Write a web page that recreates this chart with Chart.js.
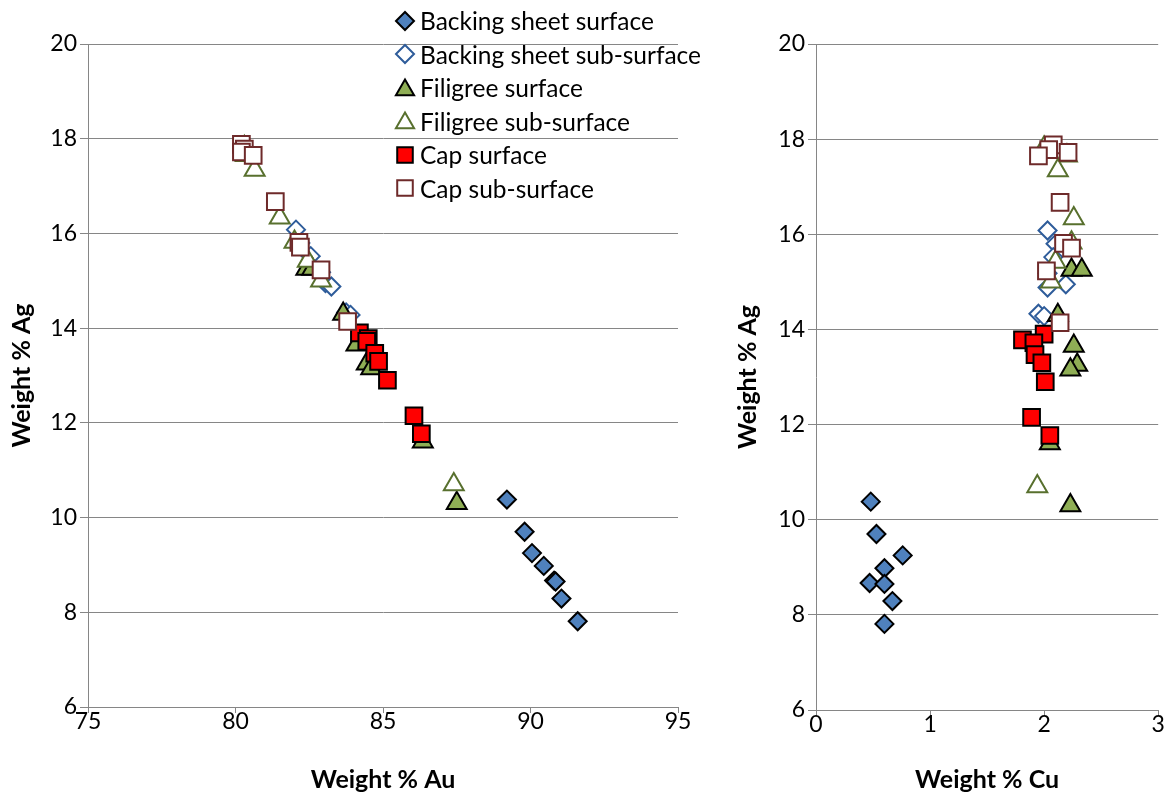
<!DOCTYPE html>
<html lang="en">
<head>
<meta charset="UTF-8">
<title>Weight % Ag against Au and Cu</title>
<script src="https://cdn.jsdelivr.net/npm/chart.js@4.4.1/dist/chart.umd.min.js"></script>
<style>
  body { margin: 0; background: #fff; }
  #wrap { position: relative; width: 1172px; height: 798px; overflow: hidden; }
  #leftChart { position: absolute; left: 0; top: 0; }
  #rightChart { position: absolute; left: 720px; top: 0; }
  #legend { position: absolute; left: 393px; top: 4px; font-family: Lato, sans-serif; font-size: 24.5px; color: #000; }
  #legend .row { height: 33.5px; display: flex; align-items: center; white-space: nowrap; }
  #legend canvas { margin-right: 3px; }
</style>
</head>
<body>
<div id="wrap">
  <canvas id="leftChart" width="700" height="798"></canvas>
  <canvas id="rightChart" width="452" height="798"></canvas>
  <div id="legend"></div>
</div>

<script>
// values: each sample has Au, Cu and Ag weight %
var backSurfAu = [89.2, 89.8, 90.05, 90.45, 90.8, 90.85, 91.05, 91.6];
var backSurfCu = [0.48, 0.53, 0.76, 0.60, 0.47, 0.60, 0.67, 0.60];
var backSurfAg = [10.38, 9.70, 9.25, 8.98, 8.67, 8.65, 8.29, 7.81];

var backSubAu = [82.05, 82.2, 82.55, 82.9, 83.05, 83.25, 83.75, 83.9];
var backSubCu = [2.03, 2.10, 2.08, 2.03, 2.19, 2.03, 1.95, 2.00];
var backSubAg = [16.08, 15.80, 15.52, 15.18, 14.95, 14.88, 14.33, 14.28];

var filSurfAu = [82.4, 82.6, 83.65, 84.1, 84.45, 84.6, 86.35, 87.5];
var filSurfCu = [2.24, 2.33, 2.12, 2.26, 2.29, 2.23, 2.05, 2.23];
var filSurfAg = [15.25, 15.25, 14.30, 13.65, 13.25, 13.15, 11.60, 10.30];

var filSubAu = [80.3, 80.35, 80.65, 81.5, 82.0, 82.45, 82.9, 87.4];
var filSubCu = [2.00, 2.20, 2.12, 2.26, 2.24, 2.10, 2.06, 1.94];
var filSubAg = [17.82, 17.65, 17.34, 16.33, 15.82, 15.42, 15.00, 10.70];

var capSurfAu = [84.2, 84.5, 84.45, 84.72, 84.85, 85.15, 86.05, 86.3];
var capSurfCu = [2.00, 1.81, 1.91, 1.92, 1.98, 2.01, 1.89, 2.05];
var capSurfAg = [13.90, 13.78, 13.72, 13.47, 13.30, 12.90, 12.15, 11.77];

var capSubAu = [80.2, 80.3, 80.2, 80.6, 81.35, 82.15, 82.2, 82.9, 83.8];
var capSubCu = [2.08, 2.04, 2.21, 1.95, 2.14, 2.17, 2.24, 2.02, 2.14];
var capSubAg = [17.88, 17.78, 17.72, 17.65, 16.67, 15.81, 15.71, 15.23, 14.14];

var agTicks = [6, 8, 10, 12, 14, 16, 18, 20];
var auTicks = [75, 80, 85, 90, 95];
var cuTicks = [0, 1, 2, 3];

var series = [
  { label: 'Backing sheet surface', au: backSurfAu, cu: backSurfCu, ag: backSurfAg,
    style: 'rectRot', r: 9, fill: '#4F81BD', line: '#000000' },
  { label: 'Backing sheet sub-surface', au: backSubAu, cu: backSubCu, ag: backSubAg,
    style: 'rectRot', r: 9, fill: '#FFFFFF', line: '#2E5C9A' },
  { label: 'Filigree surface', au: filSurfAu, cu: filSurfCu, ag: filSurfAg,
    style: 'triangle', r: 11.5, fill: '#8FAE55', line: '#000000' },
  { label: 'Filigree sub-surface', au: filSubAu, cu: filSubCu, ag: filSubAg,
    style: 'triangle', r: 11.5, fill: '#FFFFFF', line: '#58702E' },
  { label: 'Cap surface', au: capSurfAu, cu: capSurfCu, ag: capSurfAg,
    style: 'rect', r: 11.8, fill: '#FF0000', line: '#000000' },
  { label: 'Cap sub-surface', au: capSubAu, cu: capSubCu, ag: capSubAg,
    style: 'rect', r: 11.8, fill: '#FFFFFF', line: '#6E2A2A' }
];

var gridGrey = '#868686';

function makeDatasets(xKey) {
  return series.map(function (s, i) {
    return {
      label: s.label,
      data: s[xKey].map(function (v, j) { return { x: v, y: s.ag[j] }; }),
      pointStyle: s.style,
      pointRadius: s.r,
      pointHoverRadius: s.r,
      backgroundColor: s.fill,
      borderColor: s.line,
      borderWidth: 2,
      order: series.length - i   // later series sit on top, like the original
    };
  });
}

function makeOptions(xMin, xMax, xTitle, yWidth, xHeight, titlePad, rightPad) {
  var font = { family: 'Lato, sans-serif', size: 23 };
  var bold = { family: 'Lato, sans-serif', size: 25, weight: 'bold' };
  return {
    responsive: false,
    animation: false,
    layout: { padding: { top: 44, right: rightPad, left: 0, bottom: 0 } },
    plugins: { legend: { display: false }, tooltip: { enabled: false } },
    scales: {
      x: {
        type: 'linear', min: xMin, max: xMax,
        ticks: { color: '#000', font: font, padding: -5 },
        grid: { drawOnChartArea: false, color: gridGrey, tickLength: 6 },
        border: { color: gridGrey },
        title: { display: true, text: xTitle, color: '#000', font: bold, padding: { top: 4, bottom: 3 } },
        afterFit: function (s) { s.height = xHeight; }
      },
      y: {
        min: 6, max: 20,
        afterBuildTicks: function (s) { s.ticks = agTicks.map(function (v) { return { value: v }; }); },
        ticks: { color: '#000', font: font, padding: 3 },
        grid: { color: gridGrey, tickLength: 8 },
        border: { color: gridGrey },
        title: { display: true, text: 'Weight % Ag', color: '#000', font: bold, padding: { top: titlePad, bottom: 4 } },
        afterFit: function (s) { s.width = yWidth; }
      }
    }
  };
}

var leftOpts = makeOptions(75, 95, 'Weight % Au', 88, 91, 7, 22);
leftOpts.scales.x.afterBuildTicks = function (s) { s.ticks = auTicks.map(function (v) { return { value: v }; }); };
new Chart(document.getElementById('leftChart'), {
  type: 'scatter',
  data: { datasets: makeDatasets('au') },
  options: leftOpts
});

var rightOpts = makeOptions(0, 3, 'Weight % Cu', 96, 88, 13, 12);
rightOpts.scales.x.afterBuildTicks = function (s) { s.ticks = cuTicks.map(function (v) { return { value: v }; }); };
new Chart(document.getElementById('rightChart'), {
  type: 'scatter',
  data: { datasets: makeDatasets('cu') },
  options: rightOpts
});

// legend placed over the left plot, markers drawn with the library's point helper
var legend = document.getElementById('legend');
series.forEach(function (s) {
  var row = document.createElement('div');
  row.className = 'row';
  var c = document.createElement('canvas');
  c.width = 24; c.height = 26;
  var ctx = c.getContext('2d');
  ctx.fillStyle = s.fill;
  ctx.strokeStyle = s.line;
  ctx.lineWidth = 2;
  var lr = s.style === 'rectRot' ? 9 : (s.style === 'triangle' ? 10.5 : 11);
  Chart.helpers.drawPoint(ctx, { pointStyle: s.style, radius: lr, rotation: 0, borderWidth: 2 }, 12, s.style === 'triangle' ? 15 : 13);
  var t = document.createElement('span');
  t.textContent = s.label;
  row.appendChild(c);
  row.appendChild(t);
  legend.appendChild(row);
});
</script>
</body>
</html>
